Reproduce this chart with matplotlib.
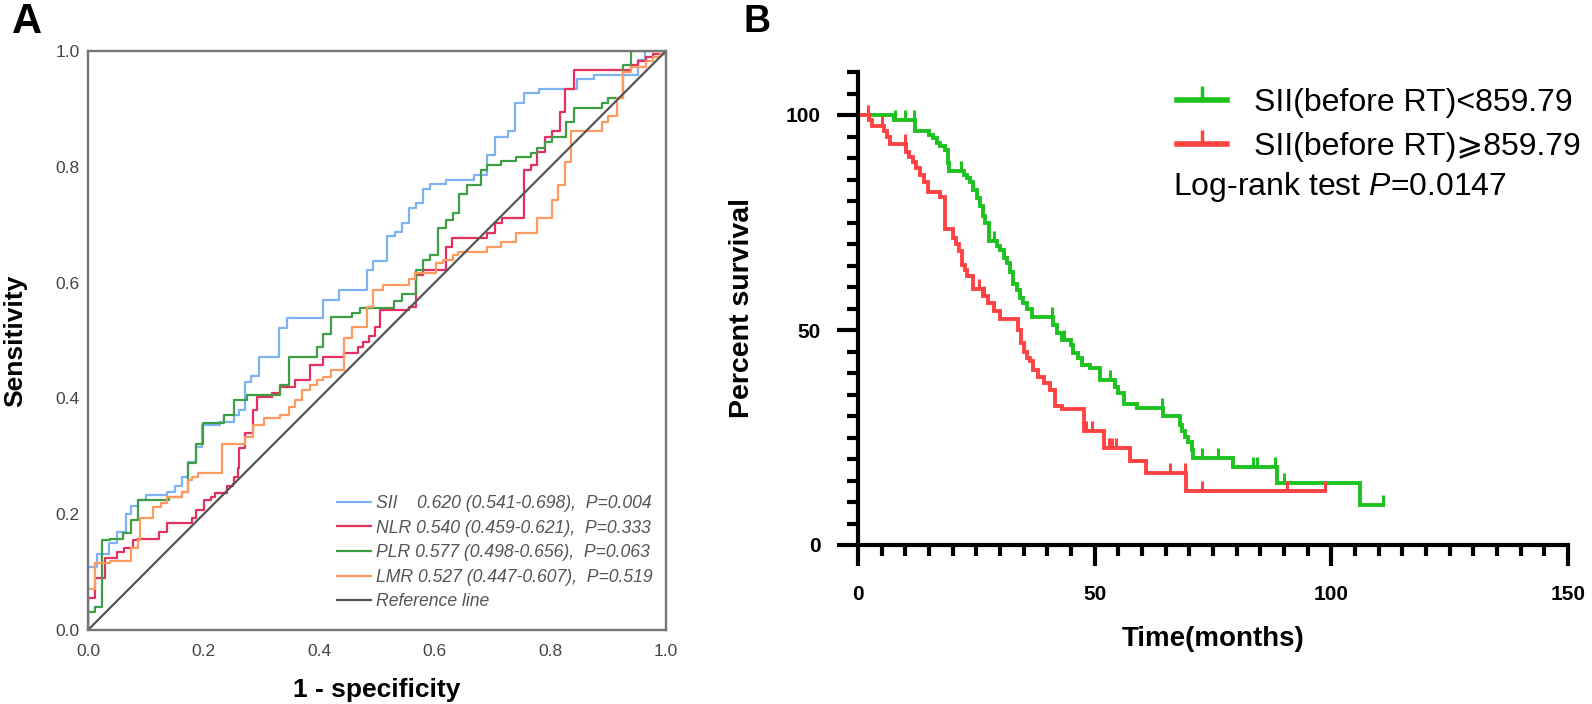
import numpy as np
import matplotlib
matplotlib.use("Agg")
import matplotlib.pyplot as plt
from matplotlib.lines import Line2D

plt.rcParams['font.family'] = ['Liberation Sans', 'DejaVu Sans']
plt.rcParams['mathtext.fontset'] = 'custom'
plt.rcParams['mathtext.rm'] = 'Liberation Sans'
plt.rcParams['mathtext.it'] = 'Liberation Sans:italic'

# ---------------- Panel A: ROC step curves (1-specificity, sensitivity) ----------------
sii_fpr = [0, 0, 0.015, 0.037, 0.05, 0.065, 0.075, 0.087, 0.10, 0.137, 0.15, 0.163, 0.173, 0.186,
           0.197, 0.229, 0.252, 0.262, 0.272, 0.282, 0.295, 0.331, 0.344, 0.407, 0.434, 0.482,
           0.493, 0.518, 0.531, 0.543, 0.556, 0.568, 0.58, 0.592, 0.619, 0.668, 0.691, 0.704,
           0.727, 0.739, 0.754, 0.78, 0.846, 0.876, 0.952, 0.964, 1.0]
sii_tpr = [0, 0.109, 0.132, 0.15, 0.17, 0.20, 0.215, 0.225, 0.233, 0.239, 0.248, 0.265, 0.29, 0.316,
           0.354, 0.36, 0.371, 0.38, 0.429, 0.439, 0.472, 0.521, 0.538, 0.57, 0.588, 0.621,
           0.638, 0.68, 0.687, 0.703, 0.728, 0.737, 0.761, 0.77, 0.778, 0.786, 0.82, 0.852,
           0.861, 0.91, 0.927, 0.934, 0.951, 0.959, 0.985, 1.0, 1.0]

nlr_fpr = [0, 0, 0.012, 0.03, 0.051, 0.063, 0.077, 0.087, 0.123, 0.137, 0.18, 0.186, 0.2, 0.212,
           0.22, 0.24, 0.25, 0.252, 0.259, 0.262, 0.272, 0.285, 0.292, 0.318, 0.332, 0.358,
           0.384, 0.407, 0.443, 0.467, 0.476, 0.486, 0.496, 0.506, 0.556, 0.568, 0.579, 0.619,
           0.63, 0.691, 0.704, 0.717, 0.754, 0.767, 0.777, 0.79, 0.803, 0.816, 0.826, 0.84,
           0.939, 0.952, 0.965, 0.978, 1.0]
nlr_tpr = [0, 0.055, 0.09, 0.124, 0.135, 0.141, 0.155, 0.158, 0.17, 0.184, 0.193, 0.207, 0.225, 0.23,
           0.236, 0.248, 0.253, 0.265, 0.279, 0.314, 0.34, 0.38, 0.403, 0.409, 0.42, 0.432,
           0.457, 0.472, 0.478, 0.489, 0.498, 0.507, 0.524, 0.553, 0.558, 0.613, 0.621, 0.661,
           0.677, 0.685, 0.703, 0.711, 0.794, 0.803, 0.826, 0.852, 0.861, 0.895, 0.934, 0.968,
           0.976, 0.983, 0.99, 0.995, 1.0]

plr_fpr = [0, 0, 0.012, 0.025, 0.038, 0.06, 0.074, 0.087, 0.14, 0.163, 0.173, 0.186, 0.199, 0.236,
           0.252, 0.275, 0.332, 0.348, 0.397, 0.407, 0.42, 0.457, 0.47, 0.53, 0.544, 0.568,
           0.579, 0.592, 0.605, 0.619, 0.632, 0.642, 0.655, 0.68, 0.691, 0.714, 0.74, 0.766,
           0.777, 0.79, 0.803, 0.827, 0.84, 0.889, 0.9, 0.926, 0.94, 1.0]
plr_tpr = [0, 0.031, 0.04, 0.155, 0.158, 0.167, 0.19, 0.225, 0.23, 0.239, 0.289, 0.322, 0.357, 0.371,
           0.397, 0.406, 0.423, 0.472, 0.489, 0.512, 0.541, 0.547, 0.556, 0.568, 0.581, 0.621,
           0.639, 0.648, 0.694, 0.708, 0.72, 0.753, 0.768, 0.795, 0.803, 0.81, 0.817, 0.823,
           0.832, 0.843, 0.852, 0.878, 0.901, 0.91, 0.918, 0.976, 1.0, 1.0]

lmr_fpr = [0, 0, 0.012, 0.038, 0.074, 0.087, 0.09, 0.113, 0.127, 0.137, 0.163, 0.173, 0.18, 0.19,
           0.232, 0.272, 0.285, 0.305, 0.332, 0.348, 0.358, 0.371, 0.384, 0.397, 0.407, 0.42,
           0.443, 0.457, 0.483, 0.493, 0.51, 0.556, 0.566, 0.602, 0.615, 0.632, 0.64, 0.691,
           0.714, 0.74, 0.777, 0.803, 0.813, 0.826, 0.836, 0.889, 0.9, 0.915, 0.926, 0.939,
           0.965, 0.978, 0.99, 1.0]
lmr_tpr = [0, 0.07, 0.115, 0.12, 0.141, 0.155, 0.193, 0.213, 0.219, 0.23, 0.239, 0.259, 0.265, 0.271,
           0.322, 0.334, 0.354, 0.366, 0.371, 0.386, 0.397, 0.414, 0.423, 0.432, 0.437, 0.449,
           0.504, 0.524, 0.558, 0.587, 0.596, 0.607, 0.617, 0.634, 0.639, 0.648, 0.653, 0.661,
           0.67, 0.686, 0.711, 0.743, 0.768, 0.809, 0.861, 0.878, 0.887, 0.918, 0.964, 0.973,
           0.983, 0.99, 0.995, 1.0]

roc_labels = ["SII    0.620 (0.541-0.698),  P=0.004",
              "NLR 0.540 (0.459-0.621),  P=0.333",
              "PLR 0.577 (0.498-0.656),  P=0.063",
              "LMR 0.527 (0.447-0.607),  P=0.519",
              "Reference line"]
roc_colors = ['#7EB2F2', '#E4305F', '#3E9E45', '#FF9A5E', '#555555']
roc_ticks = [0.0, 0.2, 0.4, 0.6, 0.8, 1.0]

# ---------------- Panel B: Kaplan-Meier ----------------
low_t = [0, 7.5, 12.0, 14.9, 15.8, 16.6, 17.3, 18.3, 19.0, 19.2, 22.4, 23.0, 23.7, 24.4, 25.1, 25.8,
         26.5, 26.9, 27.6, 29.3, 30.0, 30.8, 31.4, 32.1, 32.8, 33.5, 34.2, 34.9, 35.6, 36.7, 41.3,
         42.0, 43.0, 45.0, 45.5, 46.5, 47.3, 49.0, 51.1, 54.3, 55.0, 56.1, 58.9, 64.5, 68.0, 68.4,
         69.1, 69.8, 70.5, 70.8, 79.3, 88.5, 106.0, 111.0]
low_s = [100, 98.8, 96.2, 95.3, 94.6, 93.5, 92.8, 91.9, 88.8, 86.9, 86.0, 85.3, 84.5, 82.6, 80.7, 78.8,
         76.4, 74.9, 70.6, 69.5, 68.7, 66.7, 65.5, 63.6, 60.8, 59.3, 57.4, 56.2, 55.0, 53.1, 51.2,
         49.3, 47.7, 46.5, 44.6, 43.4, 41.9, 41.1, 38.4, 36.8, 35.3, 32.9, 31.8, 29.9, 27.9, 26.4,
         25.2, 24.0, 22.1, 20.2, 18.2, 14.4, 9.3, 9.3]
low_cens = [7.8, 10.0, 11.9, 21.7, 28.8, 40.9, 43.5, 53.2, 64.2, 72.6, 76.1, 83.5, 84.2, 88.1, 89.9, 111.0]

high_t = [0, 2.4, 3.0, 5.5, 6.2, 6.8, 10.2, 10.8, 11.6, 12.2, 13.0, 14.0, 14.7, 17.3, 18.3, 20.1,
          20.7, 21.3, 21.9, 22.5, 23.1, 24.3, 26.5, 27.5, 28.8, 30.0, 33.9, 34.5, 35.1, 35.7, 36.3,
          36.9, 38.1, 39.3, 40.5, 41.7, 43.0, 47.7, 51.9, 57.4, 60.8, 69.3, 98.6]
high_s = [100, 98.8, 97.4, 96.3, 95.0, 93.2, 91.5, 90.2, 89.0, 87.7, 86.0, 84.5, 82.0, 80.9, 73.6, 71.5,
          70.0, 68.4, 65.2, 64.0, 62.6, 59.5, 58.0, 56.2, 54.5, 52.5, 50.1, 47.0, 45.0, 43.6, 42.8,
          40.7, 39.1, 37.6, 36.0, 32.4, 31.6, 26.6, 22.6, 19.6, 16.8, 12.5, 12.5]
high_cens = [2.2, 5.0, 9.9, 25.5, 26.7, 48.2, 49.4, 53.0, 53.6, 54.6, 65.9, 69.1, 72.6, 90.6, 98.6]

km_labels = ["SII(before RT)<859.79", "SII(before RT)\u2A7E859.79"]
km_colors = ['#1EC21E', '#FF4242']

# ====================================================================================
fig = plt.figure(figsize=(15.92, 7.04), dpi=100)

# ---- Panel A ----
axA = fig.add_axes([88 / 1592, 1 - 630 / 704, 578 / 1592, 579 / 704])
series = [(sii_fpr, sii_tpr), (nlr_fpr, nlr_tpr), (plr_fpr, plr_tpr), (lmr_fpr, lmr_tpr)]
handlesA = []
for (fx, ty), c, lab in zip(series, roc_colors[:4], roc_labels[:4]):
    h, = axA.step(fx, ty, where='post', color=c, lw=1.6, label=lab)
    handlesA.append(h)
h, = axA.plot([0, 1], [0, 1], color=roc_colors[4], lw=1.6, label=roc_labels[4])
handlesA.append(h)
axA.set_xlim(0, 1)
axA.set_ylim(0, 1)
axA.set_xticks(roc_ticks)
axA.set_yticks(roc_ticks)
axA.set_xticklabels([f"{v:.1f}" for v in roc_ticks])
axA.set_yticklabels([f"{v:.1f}" for v in roc_ticks])
axA.tick_params(length=0, labelsize=12.5, labelcolor='#444444')
axA.tick_params(axis='x', pad=10)
axA.tick_params(axis='y', pad=6)
for s in axA.spines.values():
    s.set_color('#777777')
    s.set_linewidth(1.7)
axA.set_xlabel("1 - specificity", fontsize=19, fontweight='bold', labelpad=14)
axA.set_ylabel("Sensitivity", fontsize=19, fontweight='bold', labelpad=20)
legA = axA.legend(handles=handlesA, loc='upper left', bbox_to_anchor=(337 / 1592, 1 - 495 / 704),
                  bbox_transform=fig.transFigure, frameon=False,
                  handlelength=1.9, handletextpad=0.3, labelspacing=0.43, borderpad=0,
                  borderaxespad=0, prop={'style': 'italic', 'size': 12.7})
for t in legA.get_texts():
    t.set_color('#555555')

fig.text(12 / 1592, 1 - 22 / 704, "A", fontsize=30, fontweight='bold', va='center', ha='left')

# ---- Panel B ----
axB = fig.add_axes([858 / 1592, 1 - 545 / 704, 710 / 1592, 473 / 704])

def step_at(times, surv, x):
    idx = np.searchsorted(np.asarray(times), x, side='right') - 1
    return np.asarray(surv)[idx]

handlesB = []
for tt, ss, cens, c, lab in [(low_t, low_s, low_cens, km_colors[0], km_labels[0]),
                             (high_t, high_s, high_cens, km_colors[1], km_labels[1])]:
    axB.step(tt, ss, where='post', color=c, lw=2.8, solid_joinstyle='miter', clip_on=False)
    cy = [step_at(tt, ss, x) for x in cens]
    axB.plot(cens, cy, linestyle='none', marker=2, markersize=7, markeredgewidth=2.2,
             color=c, clip_on=False)
    handlesB.append(Line2D([0], [0], color=c, lw=4, marker=2, markersize=10, markeredgewidth=2.5))

axB.set_xlim(0, 150)
axB.set_ylim(0, 110)
axB.set_xticks([0, 50, 100, 150])
axB.set_xticks(np.arange(0, 151, 5), minor=True)
axB.set_yticks([0, 50, 100])
axB.set_yticks(np.arange(0, 111, 5), minor=True)
axB.spines['top'].set_visible(False)
axB.spines['right'].set_visible(False)
for s in ['left', 'bottom']:
    axB.spines[s].set_linewidth(3)
    axB.spines[s].set_capstyle('projecting')
axB.tick_params(which='major', length=15, width=3, labelsize=15, pad=14)
axB.tick_params(which='minor', length=8, width=3)
for lab in axB.get_xticklabels() + axB.get_yticklabels():
    lab.set_fontweight('bold')
axB.tick_params(axis='y', which='major', pad=12)
axB.set_xlabel("Time(months)", fontsize=20, fontweight='bold', labelpad=16)
axB.set_ylabel("Percent survival", fontsize=20.5, fontweight='bold', labelpad=22)

legB = axB.legend(handles=handlesB, labels=km_labels, loc='upper left',
                  bbox_to_anchor=(1177 / 1592, 1 - 88 / 704), bbox_transform=fig.transFigure,
                  frameon=False, fontsize=23, handlelength=1.55, handletextpad=0.85,
                  labelspacing=0.45, borderpad=0, borderaxespad=0, numpoints=1)
fig.text(1173 / 1592, 1 - 187 / 704, r"Log-rank test $P$=0.0147", fontsize=23, va='center', ha='left')
fig.text(744 / 1592, 1 - 22 / 704, "B", fontsize=27, fontweight='bold', va='center', ha='left')

fig.savefig("out.png", dpi=100)
